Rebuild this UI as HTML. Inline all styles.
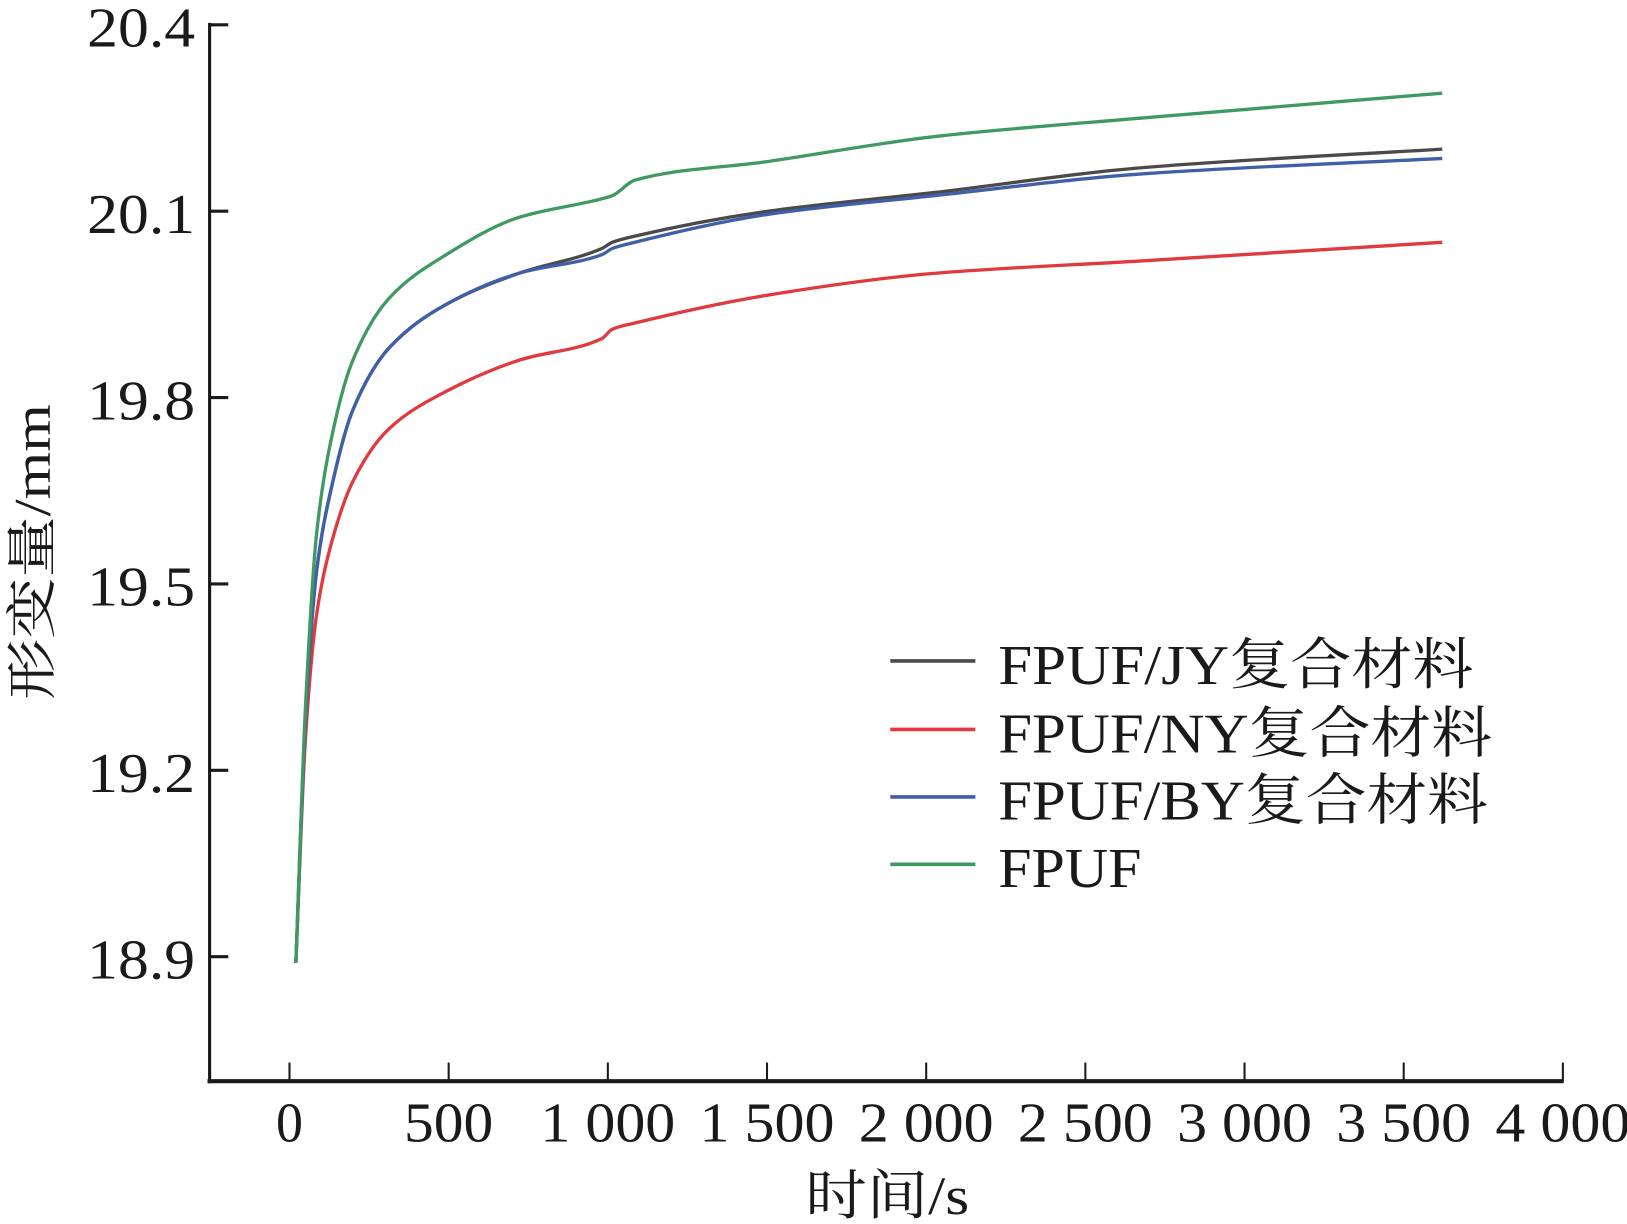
<!DOCTYPE html>
<html><head><meta charset="utf-8"><style>
html,body{margin:0;padding:0;background:#fff;}
svg{display:block;}
text{font-family:"Liberation Serif","Noto Serif CJK SC",serif;fill:#1a1a1a;}
</style></head><body>
<svg id="chart" width="1627" height="1224" viewBox="0 0 1568 1179.6" preserveAspectRatio="none" xmlns="http://www.w3.org/2000/svg">
<g id="axes"></g>
<g id="series"></g>
<g id="legend"></g>
<text x="855" y="1170" font-size="52" text-anchor="middle" textLength="158" lengthAdjust="spacingAndGlyphs">时间/s</text>
<text x="0" y="0" font-size="50" text-anchor="middle" transform="translate(48,532) rotate(-90)" textLength="285" lengthAdjust="spacingAndGlyphs">形变量/mm</text>
</svg>
<script>
const times = [20,50,85,134,199,313,492,720,981,1014,1085,1503,2024,2676,3621];
const seriesJY = [18.89,19.28,19.52,19.66,19.78,19.88,19.95,20.00,20.04,20.05,20.06,20.10,20.13,20.17,20.20];
const seriesNY = [18.89,19.25,19.45,19.57,19.665,19.75,19.81,19.86,19.895,19.91,19.92,19.965,20.0,20.02,20.05];
const seriesBY = [18.89,19.28,19.52,19.66,19.78,19.88,19.95,20.00,20.03,20.04,20.05,20.095,20.125,20.16,20.185];
const seriesFPUF = [18.89,19.30,19.58,19.74,19.86,19.96,20.03,20.09,20.12,20.125,20.15,20.18,20.22,20.25,20.29];
const xTicks = [0,500,1000,1500,2000,2500,3000,3500,4000];
const xTickLabels = ["0","500","1 000","1 500","2 000","2 500","3 000","3 500","4 000"];
const yTicks = [18.9,19.2,19.5,19.8,20.1,20.4];
const yTickLabels = ["18.9","19.2","19.5","19.8","20.1","20.4"];
const legendLabels = ["FPUF/JY复合材料","FPUF/NY复合材料","FPUF/BY复合材料","FPUF"];

const NS="http://www.w3.org/2000/svg";
const X=t=>279+(t/500)*153.4;
const Y=v=>922-(v-18.9)*598.7;
function mk(tag,attrs,parent){const e=document.createElementNS(NS,tag);for(const k in attrs)e.setAttribute(k,attrs[k]);parent.appendChild(e);return e;}
const axes=document.getElementById('axes');
const yAxis=mk('line',{x1:202,y1:22,x2:202,y2:1044,stroke:'#1a1a1a','stroke-width':3},axes);


const xAxis=mk('line',{x1:200,y1:1042,x2:1507,y2:1042,stroke:'#1a1a1a','stroke-width':4},axes);


yTicks.forEach((v,i)=>{
  const t=mk('line',{x1:202,y1:Y(v),x2:220,y2:Y(v),stroke:'#1a1a1a','stroke-width':3},axes);
  
  
  const l=mk('text',{x:188,y:Y(v)+21,'font-size':54,'text-anchor':'end',textLength:104,lengthAdjust:'spacingAndGlyphs'},axes);
  l.textContent=yTickLabels[i];
  
  
});
xTicks.forEach((v,i)=>{
  const t=mk('line',{x1:X(v),y1:1024,x2:X(v),y2:1042,stroke:'#1a1a1a','stroke-width':2},axes);
  
  
  const lab=xTickLabels[i];
  const w=lab.length===1?26:(lab.length===3?86:130);
  const l=mk('text',{x:X(v),y:1100,'font-size':54,'text-anchor':'middle',textLength:w,lengthAdjust:'spacingAndGlyphs'},axes);
  l.textContent=lab;
  
  
});
const sg=document.getElementById('series');
const defs=[[seriesNY,'#e0393e','line-fpuf-ny'],[seriesJY,'#4a4a4a','line-fpuf-jy'],[seriesBY,'#3f5fa8','line-fpuf-by'],[seriesFPUF,'#3f9a62','line-fpuf']];
// monotone cubic (Fritsch-Carlson)
function monotone(pts){
  const n=pts.length,dx=[],m=[],t=[];
  for(let i=0;i<n-1;i++){dx.push(pts[i+1][0]-pts[i][0]);m.push((pts[i+1][1]-pts[i][1])/dx[i]);}
  t[0]=m[0];t[n-1]=m[n-2];
  for(let i=1;i<n-1;i++){t[i]=(m[i-1]*m[i]<=0)?0:(dx[i-1]+dx[i])*3/((2*dx[i]+dx[i-1])/m[i-1]+(dx[i]+2*dx[i-1])/m[i]);}
  let d='M'+pts[0][0]+','+pts[0][1];
  for(let i=0;i<n-1;i++){const h=dx[i]/3;d+=` C${pts[i][0]+h},${pts[i][1]+t[i]*h} ${pts[i+1][0]-h},${pts[i+1][1]-t[i+1]*h} ${pts[i+1][0]},${pts[i+1][1]}`;}
  return d;
}
defs.forEach(([vals,col,name])=>{
  const pts=times.map((t,i)=>[X(t),Y(vals[i])]);
  const p=mk('path',{d:monotone(pts),fill:'none',stroke:col,'stroke-width':3.2,'stroke-linejoin':'round'},sg);
  
  
});
const lg=document.getElementById('legend');
const lcols=['#4a4a4a','#e0393e','#3f5fa8','#3f9a62'];
const ly=[637,703,768,833];
legendLabels.forEach((lab,i)=>{
  const ln=mk('line',{x1:858,y1:ly[i],x2:940,y2:ly[i],stroke:lcols[i],'stroke-width':3.5},lg);
  
  
  const w=lab.length>4?(i===0?458:(i===1?476:472)):138;
  const t=mk('text',{x:962,y:ly[i]+22,'font-size':54,textLength:w,lengthAdjust:'spacingAndGlyphs'},lg);
  t.textContent=lab;
  
  
});
</script>
</body></html>
